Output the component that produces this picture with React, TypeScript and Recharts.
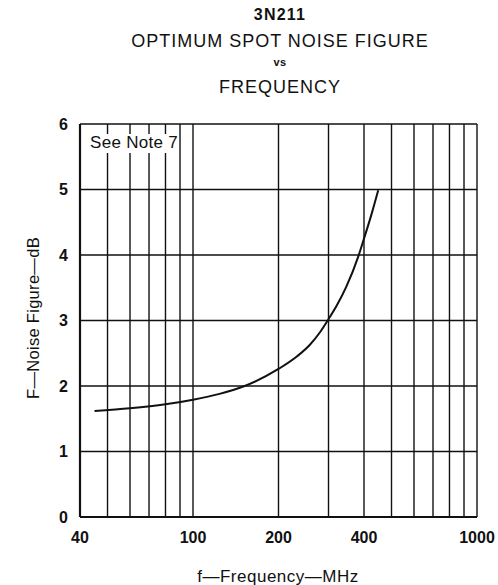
import { LineChart, Line, XAxis, YAxis, CartesianGrid } from 'recharts';

if (typeof document !== 'undefined') document.body.style.margin = '0';

const freqMHz = [45, 60, 80, 100, 124, 152, 200, 232, 258, 280, 298, 320, 347, 382, 398, 425, 449];
const noiseDb = [1.62, 1.66, 1.72, 1.79, 1.88, 2.0, 2.26, 2.45, 2.63, 2.82, 3.0, 3.22, 3.52, 3.98, 4.22, 4.62, 4.99];

const gridFreqs = [40, 50, 60, 70, 80, 90, 100, 200, 300, 400, 500, 600, 700, 800, 900, 1000];
const labelFreqs = [40, 100, 200, 400, 1000];
const yTicks = [0, 1, 2, 3, 4, 5, 6];

const data = freqMHz.map((f, i) => ({ f, nf: noiseDb[i] }));

const FONT = '"Liberation Sans", Arial, Helvetica, sans-serif';

const titleLine = (top: number, size: number, weight: number, spacing: number) => ({
  position: 'absolute' as const,
  left: 0,
  width: 560,
  top,
  textAlign: 'center' as const,
  lineHeight: 1,
  fontSize: size,
  fontWeight: weight,
  letterSpacing: spacing,
});

export default function App() {
  return (
    <div style={{ position: 'relative', width: 498, height: 585, background: '#fff', fontFamily: FONT, color: '#111', overflow: 'hidden' }}>
      <div style={titleLine(7, 16, 700, 1.2)}>3N211</div>
      <div style={titleLine(32, 18, 400, 1)}>OPTIMUM SPOT NOISE FIGURE</div>
      <div style={titleLine(57, 11, 700, 0.5)}>vs</div>
      <div style={titleLine(78, 18, 400, 1)}>FREQUENCY</div>

      <LineChart
        width={498}
        height={585}
        data={data}
        margin={{ top: 124, right: 21, bottom: 38, left: 50 }}
      >
        <CartesianGrid stroke="#111" strokeWidth={1.4} />
        <XAxis
          dataKey="f"
          type="number"
          scale="log"
          domain={[40, 1000]}
          allowDataOverflow
          ticks={gridFreqs}
          interval={0}
          tickFormatter={(v: number) => (labelFreqs.includes(v) ? String(v) : '')}
          tickLine={false}
          tickSize={6}
          tickMargin={9}
          height={30}
          axisLine={{ stroke: '#111', strokeWidth: 2.2 }}
          tick={{ fontSize: 16, fontWeight: 700, fill: '#111', fontFamily: FONT }}
        />
        <YAxis
          type="number"
          domain={[0, 6]}
          ticks={yTicks}
          interval={0}
          tickLine={false}
          tickSize={6}
          tickMargin={6}
          width={30}
          axisLine={{ stroke: '#111', strokeWidth: 2.2 }}
          tick={{ fontSize: 16, fontWeight: 700, fill: '#111', fontFamily: FONT }}
        />
        <Line
          type="monotone"
          dataKey="nf"
          stroke="#111"
          strokeWidth={2}
          dot={false}
          isAnimationActive={false}
        />
      </LineChart>

      <div style={{ position: 'absolute', left: 89, top: 134, fontSize: 17, letterSpacing: 0.3, background: '#fff', padding: '0 1px', lineHeight: 1.1 }}>
        See Note 7
      </div>

      <div
        style={{
          position: 'absolute',
          left: 33,
          top: 318,
          fontSize: 16.5,
          letterSpacing: 0.3,
          whiteSpace: 'nowrap',
          transform: 'translate(-50%, -50%) rotate(-90deg)',
        }}
      >
        F—Noise Figure—dB
      </div>

      <div style={{ position: 'absolute', left: 278, top: 567, fontSize: 17, letterSpacing: 0.5, whiteSpace: 'nowrap', transform: 'translateX(-50%)' }}>
        f—Frequency—MHz
      </div>
    </div>
  );
}
